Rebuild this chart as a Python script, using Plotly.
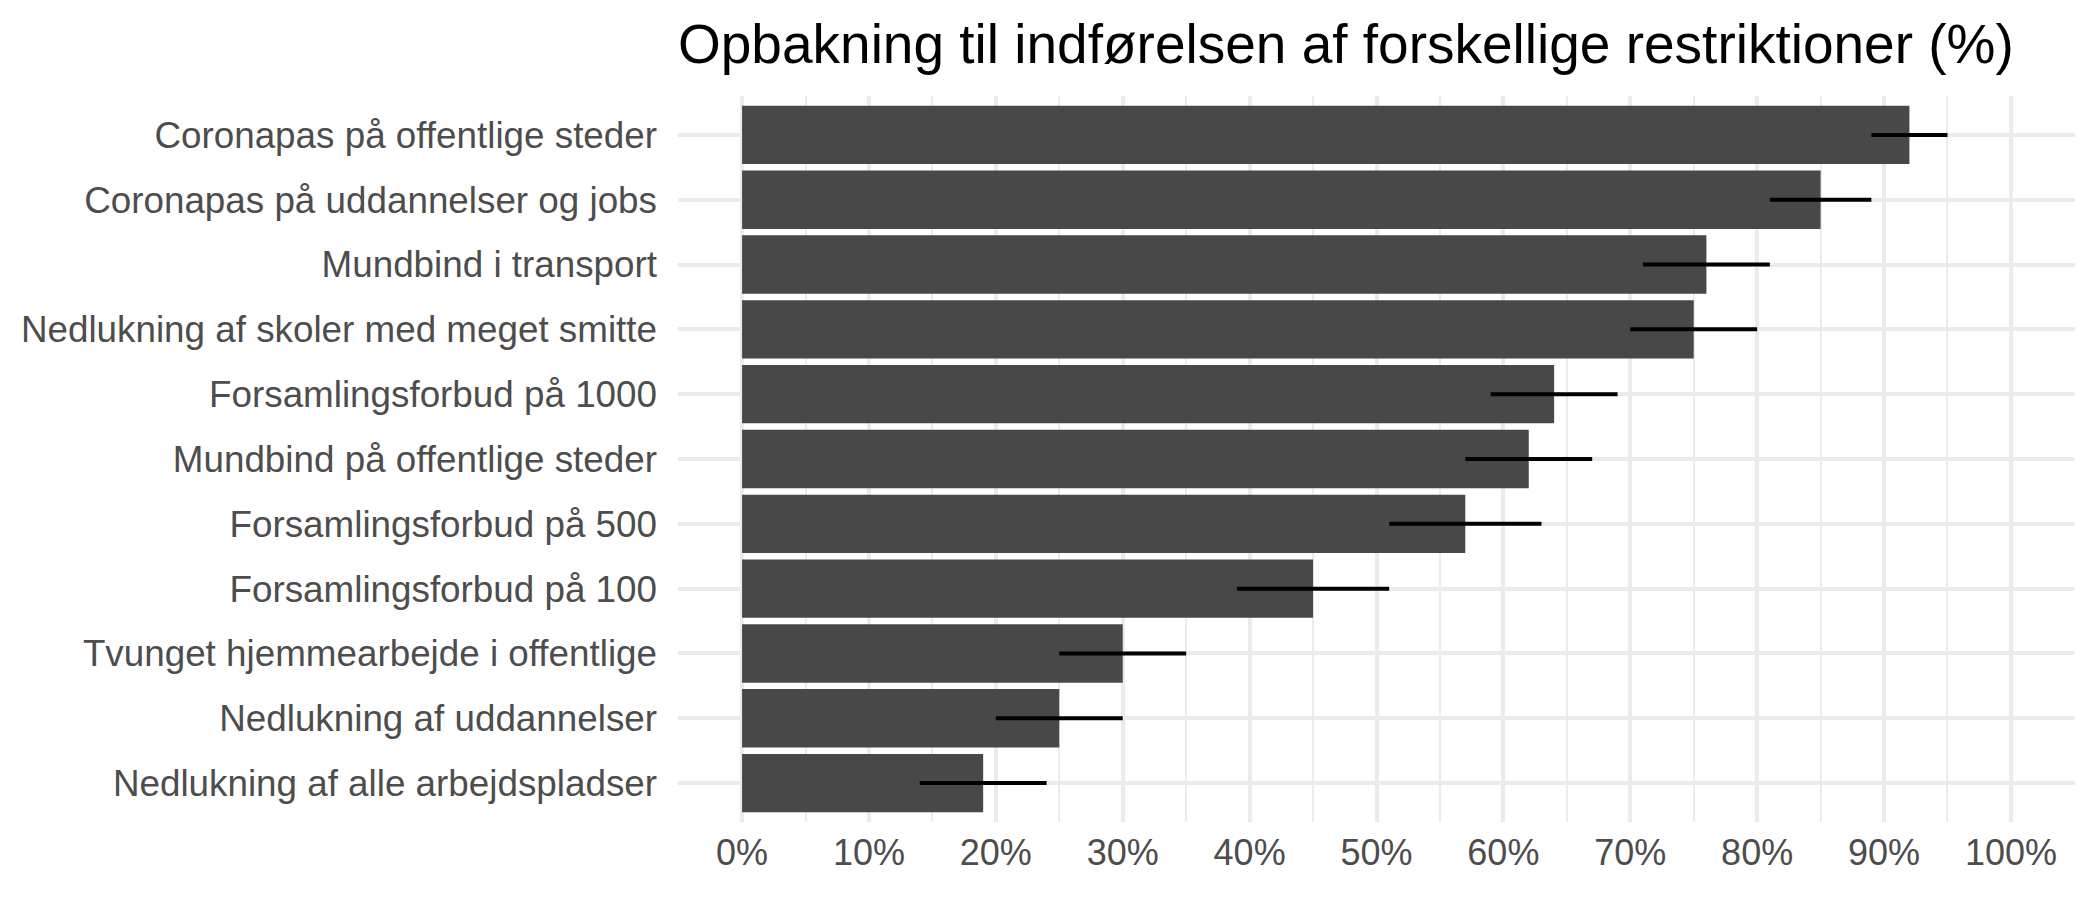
import plotly.graph_objects as go

categories = [
    "Coronapas på offentlige steder",
    "Coronapas på uddannelser og jobs",
    "Mundbind i transport",
    "Nedlukning af skoler med meget smitte",
    "Forsamlingsforbud på 1000",
    "Mundbind på offentlige steder",
    "Forsamlingsforbud på 500",
    "Forsamlingsforbud på 100",
    "Tvunget hjemmearbejde i offentlige",
    "Nedlukning af uddannelser",
    "Nedlukning af alle arbejdspladser",
]
support = [92, 85, 76, 75, 64, 62, 57, 45, 30, 25, 19]
lower = [89, 81, 71, 70, 59, 57, 51, 39, 25, 20, 14]
upper = [95, 89, 81, 80, 69, 67, 63, 51, 35, 30, 24]
tick_values = [0, 10, 20, 30, 40, 50, 60, 70, 80, 90, 100]
tick_labels = [f"{v}%" for v in tick_values]
title_text = "Opbakning til indførelsen af forskellige restriktioner (%)"

err_plus = [u - v for u, v in zip(upper, support)]
err_minus = [v - l for v, l in zip(support, lower)]

fig = go.Figure()
fig.add_trace(go.Bar(
    x=support,
    y=categories,
    orientation="h",
    width=0.9,
    marker=dict(color="#484848", line=dict(width=0)),
    error_x=dict(type="data", symmetric=False, array=err_plus, arrayminus=err_minus,
                 width=0, thickness=4, color="black"),
    hoverinfo="x+y",
))

grid = "#EBEBEB"
fig.update_layout(
    width=2100,
    height=900,
    margin=dict(l=678, r=25, t=96, b=78, pad=0),
    paper_bgcolor="white",
    plot_bgcolor="white",
    showlegend=False,
    font=dict(family="Liberation Sans, Arial, sans-serif", size=36, color="#4D4D4D"),
    title=dict(
        text=title_text,
        x=0, xref="paper", xanchor="left",
        y=1 - 44 / 900, yref="container", yanchor="middle",
        font=dict(family="Liberation Sans, Arial, sans-serif", size=55, color="black"),
    ),
    xaxis=dict(
        range=[-5.05, 105.05],
        tickmode="array",
        tickvals=tick_values,
        ticktext=tick_labels,
        showgrid=True,
        gridcolor=grid,
        gridwidth=3.5,
        zeroline=False,
        showline=False,
        ticks="",
        ticklabelstandoff=6,
        tickfont=dict(size=36, color="#4D4D4D"),
        minor=dict(dtick=5, tick0=5, showgrid=True, gridcolor=grid, gridwidth=1.8, ticks=""),
        fixedrange=True,
    ),
    yaxis=dict(
        type="category",
        categoryorder="array",
        categoryarray=categories,
        range=[10.6, -0.6],
        showgrid=True,
        gridcolor=grid,
        gridwidth=3.5,
        zeroline=False,
        showline=False,
        ticks="",
        ticklabelstandoff=20,
        tickfont=dict(size=36.8, color="#4D4D4D"),
        fixedrange=True,
    ),
)

fig.write_html(
    "out.html",
    config={"displayModeBar": False},
    post_script="document.body.style.margin='0';document.body.style.overflow='hidden';",
)
